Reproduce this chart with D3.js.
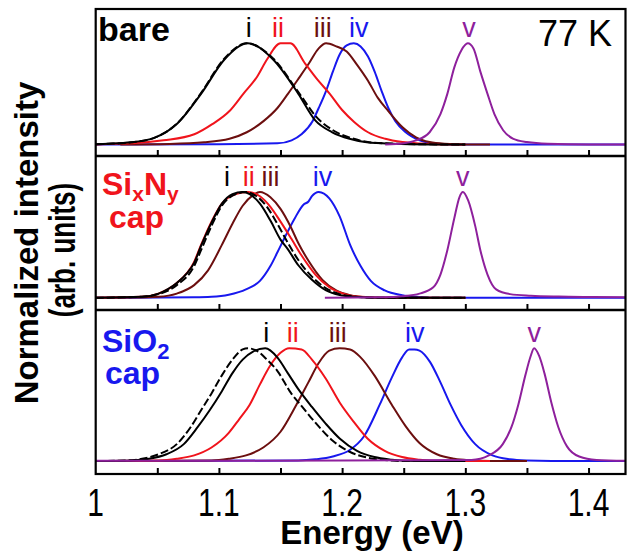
<!DOCTYPE html>
<html>
<head>
<meta charset="utf-8">
<script src="https://cdn.jsdelivr.net/npm/d3@7"></script>
<style>
  body { margin: 0; background: #fff; }
  svg { display: block; }
</style>
</head>
<body>
<svg id="chart" width="634" height="552"></svg>
<script>

// ---- data (energy in eV, normalized intensity) ------------------------------
var peakNames = ['i', 'ii', 'iii', 'iv', 'v'];
var xTickLabels = [1, 1.1, 1.2, 1.3, 1.4];
var xTickMinor = [1.05, 1.1, 1.15, 1.2, 1.25, 1.3, 1.35, 1.4];

// bare
var bare_i = [[1.000,0.002],[1.010,0.006],[1.0285,0.02],[1.0475,0.065],[1.0665,0.21],[1.0855,0.50],[1.1045,0.84],[1.1235,1.0],[1.144,0.84],[1.1645,0.5],[1.178,0.24],[1.192,0.12],[1.206,0.055],[1.220,0.02],[1.24,0.006],[1.27,0],[1.30,0]];
var bare_i_dash = [[1.000,0.002],[1.010,0.006],[1.0288,0.02],[1.0475,0.065],[1.0663,0.21],[1.085,0.50],[1.1038,0.84],[1.1225,1.0],[1.144,0.85],[1.1655,0.5],[1.180,0.26],[1.194,0.13],[1.208,0.06],[1.222,0.022],[1.242,0.007],[1.275,0],[1.30,0]];
var bare_ii = [[1.000,0],[1.030,0.01],[1.055,0.04],[1.080,0.10],[1.0946,0.2],[1.1086,0.33],[1.1198,0.5],[1.131,0.67],[1.139,0.84],[1.150,1.0],[1.158,1.0],[1.170,0.8],[1.180,0.64],[1.190,0.5],[1.200,0.34],[1.210,0.22],[1.221,0.12],[1.235,0.055],[1.249,0.023],[1.263,0.008],[1.28,0],[1.30,0]];
var bare_iii = [[1.02,0],[1.060,0.005],[1.088,0.02],[1.1086,0.055],[1.1226,0.12],[1.1362,0.23],[1.1475,0.36],[1.156,0.5],[1.164,0.64],[1.173,0.8],[1.181,0.95],[1.187,1.0],[1.1953,0.97],[1.2037,0.92],[1.212,0.79],[1.221,0.63],[1.229,0.46],[1.2375,0.33],[1.249,0.17],[1.26,0.07],[1.271,0.023],[1.283,0.006],[1.30,0],[1.32,0]];
var bare_iv = [[1.000,0],[1.100,0.002],[1.1475,0.01],[1.159,0.04],[1.167,0.1],[1.176,0.23],[1.181,0.36],[1.187,0.53],[1.1925,0.72],[1.198,0.89],[1.2037,0.98],[1.2095,1.0],[1.215,0.97],[1.221,0.87],[1.2264,0.72],[1.232,0.53],[1.2375,0.36],[1.2432,0.23],[1.2516,0.12],[1.263,0.04],[1.277,0.006],[1.29,0],[1.43,0]];
var bare_v = [[1.235,0],[1.250,0.012],[1.26,0.04],[1.271,0.12],[1.2798,0.3],[1.2854,0.5],[1.291,0.76],[1.2967,0.93],[1.302,1.0],[1.3066,0.95],[1.3122,0.72],[1.318,0.5],[1.3236,0.3],[1.3307,0.14],[1.339,0.055],[1.350,0.023],[1.367,0.006],[1.40,0],[1.43,0]];
var bareLabelE = [1.1243, 1.148, 1.1843, 1.2135, 1.303];

// SixNy cap
var sin_i = [[1.000,0],[1.0376,0.01],[1.051,0.04],[1.0658,0.14],[1.074,0.23],[1.0799,0.33],[1.0855,0.49],[1.094,0.71],[1.1024,0.89],[1.111,0.98],[1.1193,1.0],[1.125,0.98],[1.1333,0.89],[1.1418,0.73],[1.150,0.55],[1.1559,0.46],[1.1643,0.31],[1.1755,0.17],[1.187,0.07],[1.198,0.026],[1.2094,0.01],[1.23,0],[1.30,0]];
var sin_i_dash = [[1.000,0],[1.0376,0.01],[1.051,0.035],[1.0658,0.12],[1.0799,0.3],[1.0855,0.45],[1.094,0.68],[1.1024,0.87],[1.1137,0.98],[1.122,1.0],[1.1305,0.96],[1.139,0.86],[1.1474,0.7],[1.1559,0.52],[1.1643,0.36],[1.1755,0.2],[1.187,0.09],[1.198,0.035],[1.2094,0.012],[1.23,0],[1.30,0]];
var sin_ii = [[1.000,0],[1.0376,0.01],[1.051,0.04],[1.0658,0.14],[1.0799,0.34],[1.0855,0.5],[1.094,0.72],[1.1024,0.89],[1.1137,0.98],[1.1235,1.0],[1.1333,0.96],[1.1418,0.86],[1.150,0.72],[1.1587,0.56],[1.1671,0.4],[1.1783,0.22],[1.1896,0.1],[1.2009,0.04],[1.212,0.012],[1.24,0],[1.30,0]];
var sin_iii = [[1.000,0],[1.030,0.002],[1.051,0.01],[1.0658,0.04],[1.0799,0.12],[1.0912,0.26],[1.1024,0.5],[1.111,0.7],[1.1193,0.87],[1.1277,0.97],[1.1333,1.0],[1.1418,0.95],[1.150,0.84],[1.1587,0.66],[1.1643,0.52],[1.1727,0.35],[1.184,0.17],[1.1952,0.07],[1.2065,0.025],[1.2206,0.006],[1.24,0],[1.30,0]];
var sin_iv = [[1.000,0],[1.0799,0.005],[1.094,0.01],[1.108,0.03],[1.122,0.08],[1.1333,0.16],[1.1418,0.3],[1.1475,0.43],[1.153,0.56],[1.1615,0.75],[1.1686,0.88],[1.1727,0.91],[1.1755,0.96],[1.181,1.0],[1.1896,0.94],[1.198,0.77],[1.2065,0.5],[1.215,0.3],[1.2233,0.16],[1.2346,0.07],[1.2487,0.025],[1.2628,0.008],[1.28,0],[1.43,0]];
var sin_v = [[1.186,0],[1.2346,0.005],[1.2487,0.015],[1.2628,0.04],[1.274,0.1],[1.2798,0.22],[1.2854,0.45],[1.291,0.75],[1.2952,0.95],[1.298,1.0],[1.3023,0.92],[1.308,0.68],[1.3122,0.45],[1.318,0.22],[1.325,0.08],[1.3363,0.035],[1.3532,0.02],[1.3757,0.012],[1.404,0.008],[1.43,0.005]];
var sinLabelE = [1.1065, 1.1243, 1.1418, 1.184, 1.298];

// SiO2 cap
var sio_i = [[1.000,0],[1.0292,0.005],[1.0433,0.02],[1.0574,0.06],[1.0715,0.15],[1.0827,0.3],[1.0925,0.45],[1.1024,0.62],[1.111,0.78],[1.1193,0.9],[1.1277,0.97],[1.1376,1.0],[1.1474,0.92],[1.1559,0.78],[1.1643,0.64],[1.1755,0.48],[1.1868,0.33],[1.198,0.2],[1.2121,0.09],[1.2262,0.035],[1.2403,0.012],[1.26,0],[1.30,0]];
var sio_i_dash = [[1.000,0],[1.0236,0.005],[1.0377,0.02],[1.051,0.06],[1.0658,0.15],[1.077,0.3],[1.0855,0.45],[1.094,0.6],[1.1024,0.76],[1.111,0.9],[1.1193,0.99],[1.1235,1.0],[1.1305,0.98],[1.139,0.9],[1.1474,0.8],[1.1587,0.6],[1.167,0.49],[1.1783,0.34],[1.1924,0.18],[1.2065,0.08],[1.2206,0.03],[1.2346,0.01],[1.25,0],[1.30,0]];
var sio_ii = [[1.000,0],[1.051,0.005],[1.0658,0.02],[1.0799,0.05],[1.094,0.12],[1.108,0.25],[1.1164,0.37],[1.125,0.5],[1.1333,0.68],[1.1418,0.85],[1.150,0.96],[1.157,1.0],[1.1671,0.99],[1.1755,0.9],[1.1868,0.73],[1.198,0.52],[1.2093,0.35],[1.2206,0.2],[1.2346,0.09],[1.2487,0.035],[1.2628,0.012],[1.28,0],[1.32,0]];
var sio_iii = [[1.000,0],[1.094,0.005],[1.108,0.02],[1.122,0.05],[1.136,0.12],[1.150,0.26],[1.1629,0.5],[1.1727,0.7],[1.181,0.87],[1.1896,0.98],[1.198,1.0],[1.2065,0.99],[1.215,0.92],[1.2262,0.76],[1.2403,0.5],[1.2515,0.31],[1.2628,0.16],[1.2769,0.06],[1.291,0.02],[1.305,0.006],[1.32,0],[1.35,0]];
var sio_iv = [[1.000,0],[1.1643,0.005],[1.1783,0.015],[1.1924,0.04],[1.2065,0.1],[1.2178,0.22],[1.2305,0.5],[1.2403,0.74],[1.2487,0.92],[1.2544,0.99],[1.2587,0.99],[1.2628,0.98],[1.2713,0.88],[1.2797,0.7],[1.288,0.5],[1.2966,0.32],[1.308,0.15],[1.322,0.05],[1.336,0.015],[1.3502,0.004],[1.37,0],[1.43,0]];
var sio_v = [[1.000,0.003],[1.200,0.004],[1.305,0.01],[1.3191,0.05],[1.3304,0.15],[1.3374,0.3],[1.343,0.5],[1.3487,0.76],[1.353,0.93],[1.3558,1.0],[1.36,0.93],[1.3642,0.78],[1.3698,0.52],[1.3755,0.3],[1.3825,0.13],[1.3924,0.04],[1.4065,0.01],[1.43,0.003]];
var sioLabelE = [1.1384, 1.160, 1.1965, 1.259, 1.356];
//-------------------------------------------------------------------------------------------------------------------------

var FONT = '"Liberation Sans", Arial, Helvetica, sans-serif';
var colors = {i: '#000000', ii: '#f0141c', iii: '#6c0f0f', iv: '#1818ee', v: '#8e209c'};

// draw order: blue, dark red, red, black, black dashed, purple
var panels = [
    {curves: [['iv', bare_iv], ['iii', bare_iii], ['ii', bare_ii], ['i', bare_i], ['i', bare_i_dash, true], ['v', bare_v]], labels: bareLabelE},
    {curves: [['iv', sin_iv], ['iii', sin_iii], ['ii', sin_ii], ['i', sin_i], ['i', sin_i_dash, true], ['v', sin_v]], labels: sinLabelE},
    {curves: [['iv', sio_iv], ['iii', sio_iii], ['ii', sio_ii], ['i', sio_i], ['i', sio_i_dash, true], ['v', sio_v]], labels: sioLabelE}
];

var svg = d3.select('#chart');
var panelTop = [9, 156, 310],
    panelBottom = [156, 310, 474];

var x = d3.scaleLinear()
    .domain([1, 1.43])
    .range([95.7, 625.5]);

panels.forEach(function(p, k) {
    var y = d3.scaleLinear()
        .domain([-0.115, 1.34])
        .range([panelBottom[k], panelTop[k]]);

    svg.append('clipPath').attr('id', 'clip' + k)
        .append('rect')
        .attr('x', x(1)).attr('y', panelTop[k])
        .attr('width', x(1.43) - x(1)).attr('height', panelBottom[k] - panelTop[k]);

    var line = d3.line()
        .x(d => x(d[0]))
        .y(d => y(d[1]))
        .curve(d3.curveMonotoneX);

    var g = svg.append('g').attr('clip-path', 'url(#clip' + k + ')');

    g.selectAll('path.spec')
        .data(p.curves)
    .enter().append('path')
        .attr('class', 'spec')
        .attr('d', d => line(d[1]))
        .attr('fill', 'none')
        .attr('stroke', d => colors[d[0]])
        .attr('stroke-width', 2)
        .attr('stroke-linejoin', 'round')
        .attr('stroke-dasharray', d => d[2] ? '8,3' : null);

    // peak labels
    svg.selectAll('text.pk' + k)
        .data(peakNames)
    .enter().append('text')
        .attr('class', 'pk' + k)
        .attr('x', (d, j) => x(p.labels[j]))
        .attr('y', y(1) - 6)
        .attr('text-anchor', 'middle')
        .attr('font-family', FONT)
        .attr('font-size', '27px')
        .attr('fill', d => colors[d])
        .text(d => d);

    // inward ticks on the bottom of each panel
    var ax = svg.append('g')
        .attr('transform', `translate(0,${panelBottom[k]})`)
        .call(d3.axisBottom(x).tickValues(xTickMinor).tickSizeInner(-6).tickSizeOuter(0).tickFormat(''));
    ax.select('.domain').remove();
    ax.selectAll('line').attr('stroke', '#000').attr('stroke-width', 2);
});

// frame and separators
svg.append('rect')
    .attr('x', x(1)).attr('y', panelTop[0])
    .attr('width', x(1.43) - x(1)).attr('height', panelBottom[2] - panelTop[0])
    .attr('fill', 'none').attr('stroke', '#000').attr('stroke-width', 2.2);
svg.selectAll('line.sep')
    .data([panelBottom[0], panelBottom[1]])
.enter().append('line')
    .attr('x1', x(1)).attr('x2', x(1.43))
    .attr('y1', d => d).attr('y2', d => d)
    .attr('stroke', '#000').attr('stroke-width', 2.4);

// x tick labels (tall, narrow look)
svg.selectAll('text.xt')
    .data(xTickLabels)
.enter().append('text')
    .attr('class', 'xt')
    .attr('transform', d => `translate(${x(d)},516) scale(1,1.3)`)
    .attr('text-anchor', 'middle')
    .attr('font-family', FONT)
    .attr('font-size', '30px')
    .text(d => d);

svg.append('text')
    .attr('x', 372).attr('y', 544)
    .attr('text-anchor', 'middle')
    .attr('font-family', FONT).attr('font-weight', 'bold').attr('font-size', '33px')
    .text('Energy (eV)');

// y title
svg.append('text')
    .attr('transform', 'translate(38,243) rotate(-90)')
    .attr('text-anchor', 'middle')
    .attr('font-family', FONT).attr('font-weight', 'bold').attr('font-size', '33px')
    .text('Normalized intensity');
svg.append('text')
    .attr('transform', 'translate(75,250) rotate(-90) scale(1,1.4)')
    .attr('text-anchor', 'middle')
    .attr('font-family', FONT).attr('font-weight', 'bold').attr('font-size', '26px')
    .text('(arb. units)');

// panel titles
svg.append('text')
    .attr('x', 98).attr('y', 41)
    .attr('font-family', FONT).attr('font-weight', 'bold').attr('font-size', '34px')
    .text('bare');
svg.append('text')
    .attr('x', 612).attr('y', 46)
    .attr('text-anchor', 'end')
    .attr('font-family', FONT).attr('font-size', '36px')
    .text('77 K');

var t2 = svg.append('text')
    .attr('x', 102).attr('y', 195)
    .attr('font-family', FONT).attr('font-weight', 'bold').attr('font-size', '32px')
    .attr('fill', colors.ii);
t2.append('tspan').text('Si');
t2.append('tspan').attr('dy', 6).attr('font-size', '21px').text('x');
t2.append('tspan').attr('dy', -6).text('N');
t2.append('tspan').attr('dy', 6).attr('font-size', '21px').text('y');
svg.append('text')
    .attr('x', 109).attr('y', 228)
    .attr('font-family', FONT).attr('font-weight', 'bold').attr('font-size', '32px')
    .attr('fill', colors.ii)
    .text('cap');

var t3 = svg.append('text')
    .attr('x', 102).attr('y', 352)
    .attr('font-family', FONT).attr('font-weight', 'bold').attr('font-size', '32px')
    .attr('fill', colors.iv);
t3.append('tspan').text('SiO');
t3.append('tspan').attr('dy', 7).attr('font-size', '22px').text('2');
svg.append('text')
    .attr('x', 105).attr('y', 384)
    .attr('font-family', FONT).attr('font-weight', 'bold').attr('font-size', '32px')
    .attr('fill', colors.iv)
    .text('cap');

</script>
</body>
</html>
